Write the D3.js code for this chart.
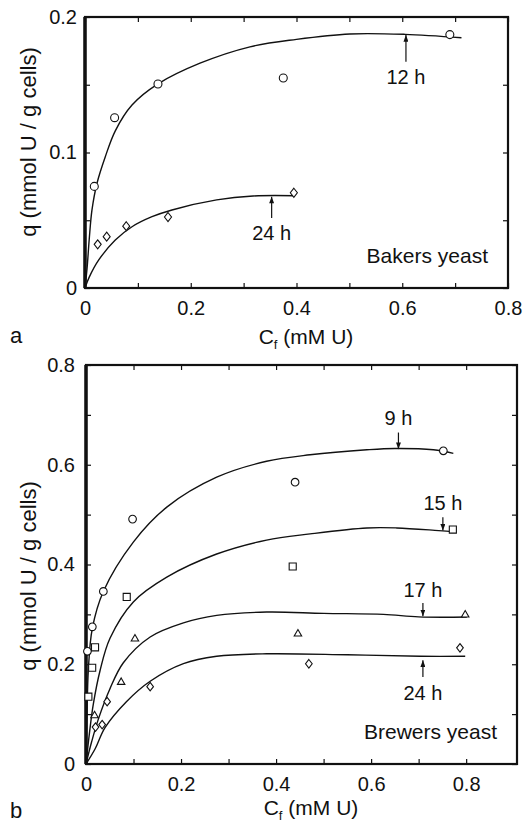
<!DOCTYPE html>
<html>
<head>
<meta charset="utf-8">
<script src="https://cdnjs.cloudflare.com/ajax/libs/d3/7.8.5/d3.min.js"></script>
<style>
body { margin: 0; background: #fff; }
svg text { font-family: "Liberation Sans", Arial, Helvetica, sans-serif; fill: #111; }
.tick text { font-size: 20px; }
</style>
</head>
<body>
<div id="chart"></div>
<script>

// ---- data ----

// ticks
var xTicksA = [0, 0.1, 0.2, 0.3, 0.4, 0.5, 0.6, 0.7, 0.8];
var xLabelsA = [0, 0.2, 0.4, 0.6, 0.8];
var yTicksA = [0, 0.05, 0.1, 0.15, 0.2];
var yLabelsA = [0, 0.1, 0.2];

var xTicksB = [0, 0.1, 0.2, 0.3, 0.4, 0.5, 0.6, 0.7, 0.8];
var xLabelsB = [0, 0.2, 0.4, 0.6, 0.8];
var yTicksB = [0, 0.1, 0.2, 0.3, 0.4, 0.5, 0.6, 0.7, 0.8];
var yLabelsB = [0, 0.2, 0.4, 0.6, 0.8];

// panel a - bakers yeast, measured points [Cf, q]
var bakers12 = [[0.0176, 0.0750], [0.056, 0.1257], [0.138, 0.1506], [0.375, 0.155], [0.690, 0.187]];
var bakers24 = [[0.024, 0.0322], [0.041, 0.0379], [0.078, 0.0456], [0.157, 0.0524], [0.395, 0.0703]];

// panel a - fitted curves
var bakers12Fit = [[0, 0], [0.0038, 0.014], [0.008, 0.036], [0.0132, 0.0576], [0.0227, 0.0773],
	[0.0384, 0.0969], [0.0573, 0.1160], [0.0889, 0.1350], [0.138, 0.1506], [0.2175, 0.1659],
	[0.312, 0.178], [0.40, 0.1835], [0.501, 0.1875], [0.605, 0.1872], [0.712, 0.1847]];
var bakers24Fit = [[0, 0], [0.008, 0.008], [0.026, 0.0207], [0.0573, 0.0354], [0.0889, 0.0452],
	[0.1267, 0.0526], [0.1645, 0.0576], [0.249, 0.065], [0.318, 0.0679], [0.397, 0.0681]];

// panel b - brewers yeast, measured points
var brewers9 = [[0.003, 0.226], [0.0133, 0.275], [0.0365, 0.346], [0.098, 0.491], [0.44, 0.565], [0.752, 0.628]];
var brewers15 = [[0.005, 0.135], [0.013, 0.193], [0.019, 0.234], [0.0857, 0.335], [0.435, 0.396], [0.772, 0.47]];
var brewers17 = [[0.018, 0.097], [0.074, 0.164], [0.103, 0.251], [0.446, 0.261], [0.798, 0.299]];
var brewers24 = [[0.02, 0.074], [0.034, 0.079], [0.0445, 0.125], [0.135, 0.155], [0.469, 0.201], [0.787, 0.233]];

// panel b - fitted curves
var brewers9Fit = [[0, 0], [0.002, 0.09], [0.005, 0.19], [0.0133, 0.272], [0.0365, 0.346], [0.0996, 0.445],
	[0.17, 0.515], [0.275, 0.575], [0.38, 0.607], [0.4716, 0.62], [0.591, 0.63], [0.65, 0.6327],
	[0.731, 0.63], [0.773, 0.6227]];
var brewers15Fit = [[0, 0], [0.007, 0.06], [0.0154, 0.12], [0.0295, 0.187], [0.0505, 0.252], [0.0996, 0.325],
	[0.17, 0.3747], [0.275, 0.421], [0.38, 0.449], [0.4716, 0.4613], [0.591, 0.4733], [0.654, 0.4733],
	[0.742, 0.468], [0.772, 0.466]];
var brewers17Fit = [[0, 0], [0.012, 0.045], [0.026, 0.09], [0.05, 0.15], [0.0786, 0.203], [0.135, 0.2547],
	[0.205, 0.283], [0.275, 0.298], [0.38, 0.3047], [0.5, 0.302], [0.626, 0.30], [0.70, 0.295], [0.8015, 0.2947]];
var brewers24Fit = [[0, 0], [0.019, 0.03], [0.04, 0.073], [0.085, 0.125], [0.135, 0.166], [0.205, 0.2013],
	[0.275, 0.216], [0.38, 0.221], [0.55, 0.219], [0.703, 0.216], [0.798, 0.216]];

// arrow annotations: label, x, arrow tail, arrow tip, label centre (data units)
var bakersNotes = [
	{label: "12 h", x: 0.607, tail: 0.167, tip: 0.1867, ty: 0.1557},
	{label: "24 h", x: 0.353, tail: 0.0517, tip: 0.0674, ty: 0.0406}
];
var brewersNotes = [
	{label: "9 h", x: 0.6575, tail: 0.6646, tip: 0.6314, ty: 0.694},
	{label: "15 h", x: 0.751, tail: 0.4946, tip: 0.468, ty: 0.5246},
	{label: "17 h", x: 0.709, tail: 0.3226, tip: 0.296, ty: 0.35},
	{label: "24 h", x: 0.709, tail: 0.1746, tip: 0.208, ty: 0.142}
];


// ---- svg ----
var svg_w = 527;
var svg_h = 826;

var svg = d3.select("#chart")
	.append("svg")
	.attr("width", svg_w)
	.attr("height", svg_h);

// arrow head
svg.append("defs")
	.append("marker")
	.attr("id", "head")
	.attr("viewBox", "0 0 8 6")
	.attr("refX", 8)
	.attr("refY", 3)
	.attr("markerWidth", 7)
	.attr("markerHeight", 5)
	.attr("markerUnits", "userSpaceOnUse")
	.attr("orient", "auto")
	.append("path")
	.attr("d", "M0,0L8,3L0,6Z")
	.attr("fill", "#111");

// diamond a bit wider than d3's own
var wideDiamond = {
	draw: function(ctx, size) {
		var s = Math.sqrt(size);
		var hy = s * 0.6, hx = s * 0.47;
		ctx.moveTo(0, -hy);
		ctx.lineTo(hx, 0);
		ctx.lineTo(0, hy);
		ctx.lineTo(-hx, 0);
		ctx.closePath();
	}
};

var fmt = function(d) { return d === 0 ? "0" : d3.format(".1f")(d); };

function drawPanel(opt) {
	var x = opt.x, y = opt.y;
	var g = svg.append("g");
	var x0 = x.range()[0], x1 = x.range()[1];
	var y0 = y.range()[0], y1 = y.range()[1];

	// ticks on all four sides, pointing inward
	g.append("g")
		.attr("transform", "translate(0," + y0 + ")")
		.call(d3.axisBottom(x).tickValues(opt.xTicks).tickSize(-5).tickPadding(opt.xPad)
			.tickFormat(function(d) { return opt.xLabels.indexOf(d) >= 0 ? fmt(d) : ""; }))
		.call(function(a) { a.select(".domain").remove(); });
	g.append("g")
		.attr("transform", "translate(0," + y1 + ")")
		.call(d3.axisTop(x).tickValues(opt.xTicks).tickSize(-5).tickFormat(""))
		.call(function(a) { a.select(".domain").remove(); });
	g.append("g")
		.attr("transform", "translate(" + x0 + ",0)")
		.call(d3.axisLeft(y).tickValues(opt.yTicks).tickSize(-5).tickPadding(opt.yPad)
			.tickFormat(function(d) { return opt.yLabels.indexOf(d) >= 0 ? fmt(d) : ""; }))
		.call(function(a) { a.select(".domain").remove(); });
	g.append("g")
		.attr("transform", "translate(" + x1 + ",0)")
		.call(d3.axisRight(y).tickValues(opt.yTicks).tickSize(-5).tickFormat(""))
		.call(function(a) { a.select(".domain").remove(); });
	g.selectAll(".tick line").attr("stroke", "#111").attr("stroke-width", 1.2);

	// frame
	g.append("rect")
		.attr("x", x0).attr("y", y1)
		.attr("width", x1 - x0).attr("height", y0 - y1)
		.attr("fill", "none").attr("stroke", "#111").attr("stroke-width", 2.2);
	g.append("line")
		.attr("x1", x0).attr("x2", x0).attr("y1", y1).attr("y2", y0)
		.attr("stroke", "#111").attr("stroke-width", 3.5);

	// fitted curves
	var line = d3.line()
		.x(function(d) { return x(d[0]); })
		.y(function(d) { return y(d[1]); })
		.curve(d3.curveCatmullRom.alpha(0.5));
	opt.fits.forEach(function(f) {
		g.append("path")
			.attr("d", line(f))
			.attr("fill", "none")
			.attr("stroke", "#111")
			.attr("stroke-width", 1.4);
	});

	// measured points
	opt.series.forEach(function(s) {
		g.selectAll(null)
			.data(s.data)
			.enter()
			.append("path")
			.attr("transform", function(d) { return "translate(" + x(d[0]) + "," + y(d[1]) + ")"; })
			.attr("d", d3.symbol().type(s.type).size(s.size))
			.attr("fill", "#fff")
			.attr("stroke", "#111")
			.attr("stroke-width", 1.1);
	});

	// arrows + labels
	opt.notes.forEach(function(n) {
		g.append("line")
			.attr("x1", x(n.x)).attr("x2", x(n.x))
			.attr("y1", y(n.tail)).attr("y2", y(n.tip))
			.attr("stroke", "#111").attr("stroke-width", 1.2)
			.attr("marker-end", "url(#head)");
		g.append("text")
			.attr("x", x(n.x)).attr("y", y(n.ty))
			.attr("dy", "0.36em")
			.attr("text-anchor", "middle")
			.attr("font-size", 20)
			.text(n.label);
	});

	// species label
	g.append("text")
		.attr("x", opt.nameX).attr("y", opt.nameY)
		.attr("text-anchor", "end")
		.attr("font-size", 21)
		.text(opt.name);

	// axis titles
	var xt = g.append("text")
		.attr("x", opt.xTitleX).attr("y", opt.xTitleY)
		.attr("text-anchor", "middle")
		.attr("font-size", 21);
	xt.append("tspan").text("C");
	xt.append("tspan").attr("font-size", 13).attr("dy", 5).text("f");
	xt.append("tspan").attr("dy", -5).text(" (mM U)");

	g.append("text")
		.attr("transform", "translate(" + opt.yTitleX + "," + opt.yTitleY + ")rotate(-90)")
		.attr("text-anchor", "middle")
		.attr("dy", "0.35em")
		.attr("font-size", 22)
		.text("q (mmol U / g cells)");

	// panel letter
	g.append("text")
		.attr("x", 10).attr("y", opt.letterY)
		.attr("font-size", 22)
		.text(opt.letter);
}

// panel a
drawPanel({
	x: d3.scaleLinear().domain([0, 0.8]).range([85, 508]),
	y: d3.scaleLinear().domain([0, 0.2]).range([288, 17]),
	xTicks: xTicksA, xLabels: xLabelsA, yTicks: yTicksA, yLabels: yLabelsA,
	xPad: 13, yPad: 8,
	fits: [bakers12Fit, bakers24Fit],
	series: [
		{data: bakers12, type: d3.symbolCircle, size: 50},
		{data: bakers24, type: wideDiamond, size: 56}
	],
	notes: bakersNotes,
	name: "Bakers yeast", nameX: 488, nameY: 263,
	xTitleX: 306, xTitleY: 344,
	yTitleX: 28, yTitleY: 142,
	letter: "a", letterY: 343
});

// panel b
drawPanel({
	x: d3.scaleLinear().domain([0, 0.907]).range([86, 517]),
	y: d3.scaleLinear().domain([0, 0.8]).range([764, 365]),
	xTicks: xTicksB, xLabels: xLabelsB, yTicks: yTicksB, yLabels: yLabelsB,
	xPad: 13, yPad: 11,
	fits: [brewers9Fit, brewers15Fit, brewers17Fit, brewers24Fit],
	series: [
		{data: brewers9, type: d3.symbolCircle, size: 46},
		{data: brewers15, type: d3.symbolSquare, size: 50},
		{data: brewers17, type: d3.symbolTriangle, size: 24},
		{data: brewers24, type: wideDiamond, size: 50}
	],
	notes: brewersNotes,
	name: "Brewers yeast", nameX: 497, nameY: 739,
	xTitleX: 311, xTitleY: 815,
	yTitleX: 28, yTitleY: 576,
	letter: "b", letterY: 818
});

</script>
</body>
</html>
